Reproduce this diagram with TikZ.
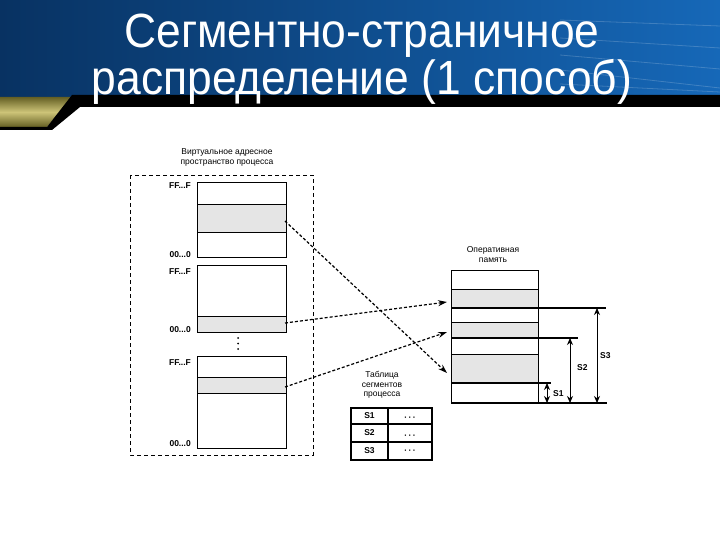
\documentclass[tikz,border=0pt]{standalone}
\usepackage{fontspec}
\setmainfont{Liberation Sans}
\usetikzlibrary{arrows.meta,calc}
\definecolor{bluedark}{RGB}{8,50,98}
\definecolor{bluelight}{RGB}{22,104,184}
\definecolor{goldmid}{RGB}{205,196,120}
\definecolor{golddark}{RGB}{100,95,35}
\begin{document}
\begin{tikzpicture}[x=1pt,y=-1pt,
  box/.style={draw, line width=0.9pt, inner sep=0, outer sep=0},
  band/.style={draw, line width=0.9pt, fill=black!10, inner sep=0, outer sep=0},
  lbl/.style={font=\fontsize{8.5}{9}\selectfont\bfseries, inner sep=0},
  hdr/.style={font=\fontsize{8.5}{10}\selectfont, align=center, inner sep=0},
  link/.style={line width=1.2pt, dash pattern=on 3pt off 2pt, -{Stealth[length=9pt,width=6pt]}},
  dim/.style={line width=0.9pt, {Stealth[length=7pt,width=6pt]}-{Stealth[length=7pt,width=6pt]}},
  ext/.style={line width=1.2pt},
  ttl/.style={text=white, font=\fontsize{48}{48}\selectfont, inner sep=0, anchor=base},
]
\useasboundingbox (0,0) rectangle (720,540);
\fill[white] (0,0) rectangle (720,540);
% header
\shade[left color=bluedark, right color=bluelight] (0,0) rectangle (720,97);
\foreach \yy/\dd in {20/6,38/10,55/14,70/18,84/8}
  \draw[white, opacity=0.18, line width=0.8pt] (560,\yy) -- (720,\yy+\dd);
\shade[top color=golddark, bottom color=golddark, middle color=goldmid]
  (0,97) -- (72,97) -- (47,127) -- (0,127) -- cycle;
\fill[black] (72,95) -- (720,95) -- (720,107) -- (80,107) -- (52,130) -- (0,130) -- (0,127) -- (47,127) -- cycle;
\node[ttl] (t1) at (362,48) {\scalebox{0.925}[1]{Сегментно-страничное}};
\node[ttl] (t2) at (362,95) {\scalebox{0.925}[1]{распределение (1 способ)}};

% virtual address space
\draw[line width=0.8pt, dash pattern=on 4pt off 3pt] (130,175) rectangle (313,455);
\node[hdr] (vh) at (227,157) {Виртуальное адресное\\пространство процесса};

\node[box, minimum width=89pt, minimum height=75pt] (b1) at (241.5,219.5) {};
\node[band, minimum width=89pt, minimum height=28pt] (v1) at (241.5,218) {};
\node[box, minimum width=89pt, minimum height=67pt] (b2) at (241.5,298.5) {};
\node[band, minimum width=89pt, minimum height=16pt] (v2) at (241.5,324) {};
\node[box, minimum width=89pt, minimum height=92pt] (b3) at (241.5,402) {};
\node[band, minimum width=89pt, minimum height=16pt] (v3) at (241.5,385) {};

\node[lbl, anchor=base east] (f1) at (191,189) {FF...F};
\node[lbl, anchor=base east] (z1) at (191,258) {00...0};
\node[lbl, anchor=base east] (f2) at (191,274) {FF...F};
\node[lbl, anchor=base east] (z2) at (191,332) {00...0};
\node[lbl, anchor=base east] (f3) at (191,365) {FF...F};
\node[lbl, anchor=base east] (z3) at (191,446) {00...0};
\foreach \yy in {338,343.5,349} \fill (238,\yy) circle (1pt);

% main memory
\node[hdr] (mh) at (493,255) {Оперативная\\память};
\node[box, minimum width=87pt, minimum height=133pt] (mem) at (494.5,336.5) {};
\node[band, minimum width=87pt, minimum height=19pt] (m1) at (494.5,298.5) {};
\node[band, minimum width=87pt, minimum height=16pt] (m2) at (494.5,330) {};
\node[band, minimum width=87pt, minimum height=29pt] (m3) at (494.5,368.5) {};

\coordinate (e3) at (606,308);
\coordinate (e2) at (578,338);
\coordinate (e1) at (551,383);
\coordinate (e0) at (607,403);
\draw[ext] (m1.south west) -- (e3);
\draw[ext] (m2.south west) -- (e2);
\draw[ext] (m3.south west) -- (e1);
\draw[ext] (mem.south west) -- (e0);

\coordinate (s1t) at (547,383); \coordinate (s1b) at (547,403);
\coordinate (s2t) at (570,338); \coordinate (s2b) at (570,403);
\coordinate (s3t) at (597,308); \coordinate (s3b) at (597,403);
\draw[dim] (s1t) -- (s1b);
\draw[dim] (s2t) -- (s2b);
\draw[dim] (s3t) -- (s3b);
\node[lbl, anchor=west] (ls1) at (553,394) {S1};
\node[lbl, anchor=west] (ls2) at (577,368) {S2};
\node[lbl, anchor=west] (ls3) at (600,356) {S3};

% segment table
\node[hdr, font=\fontsize{8.5}{9.5}\selectfont] (th) at (382,385) {Таблица\\сегментов\\процесса};
\draw[line width=1.3pt] (351,408) rectangle (432,460);
\draw[line width=1.3pt] (388,408) -- (388,460);
\draw[line width=1.3pt] (351,424) -- (432,424);
\draw[line width=1.3pt] (351,442) -- (432,442);
\node[lbl] (r1) at (369.5,416) {S1};
\node[lbl] (r2) at (369.5,433) {S2};
\node[lbl] (r3) at (369.5,451) {S3};
\node[lbl] (d1) at (410,419) {·\,·\,·};
\node[lbl] (d2) at (410,437) {·\,·\,·};
\node[lbl] (d3) at (410,452) {·\,·\,·};

% links
\draw[link] ($(v1.east)+(-1,3)$) -- ($(m3.west)+(-4,4.5)$);
\draw[link] ($(v2.east)+(-1,-1)$) -- ($(m1.west)+(-4,3.5)$);
\draw[link] ($(v3.east)+(-1,2)$) -- ($(m2.west)+(-4,2)$);
\end{tikzpicture}
\end{document}
